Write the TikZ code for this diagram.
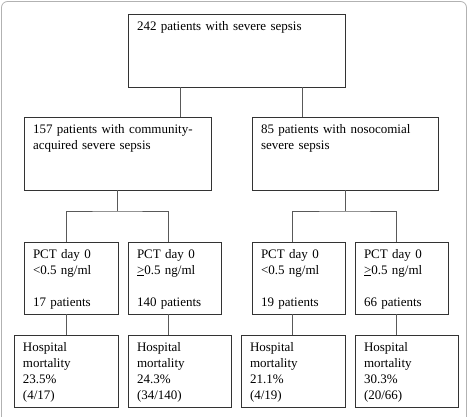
\documentclass[tikz,border=0pt]{standalone}
\usepackage{fontspec}
\setmainfont{Liberation Serif}
\usetikzlibrary{calc}
\tikzset{
  box/.style={draw=black!80, line width=0.9pt, anchor=north west, outer sep=0pt, align=left, inner xsep=9pt, inner ysep=4pt, text height=12pt, font=\fontsize{13}{16}\selectfont},
  groupbox/.style={box, text depth=53pt},
  pctbox/.style={box, text depth=52pt},
  link/.style={draw=black!65, line width=0.9pt},
  frame/.style={draw=black!30, line width=0.8pt, rounded corners=6pt}
}
\begin{document}
\begin{tikzpicture}[x=1pt, y=-1pt]
\clip (0,0) rectangle (471,416);
\draw[frame] (1.5,1.5) rectangle (466.5,440);
% groups
\node[groupbox, text width=199pt] (all) at (128,14) {242 patients with severe sepsis};
\node[groupbox, text width=169pt] (comm) at (24,117) {157 patients with community-\\acquired severe sepsis};
\node[groupbox, text width=168pt] (noso) at (252,117) {85 patients with nosocomial\\severe sepsis};
% PCT day 0
\node[pctbox, text width=76pt] (commlow) at (24,242) {PCT day 0\\<0.5 ng/ml\\[16pt]17 patients};
\node[pctbox, text width=75pt] (commhigh) at (128,242) {PCT day 0\\\underline{>}0.5 ng/ml\\[16pt]140 patients};
\node[pctbox, text width=75pt] (nosolow) at (252,242) {PCT day 0\\<0.5 ng/ml\\[16pt]19 patients};
\node[pctbox, text width=75pt] (nosohigh) at (355,242) {PCT day 0\\\underline{>}0.5 ng/ml\\[16pt]66 patients};
% mortality
\node[pctbox, text width=86pt] (mcommlow) at (14,335) {Hospital\\mortality\\23.5\%\\(4/17)};
\node[pctbox, text width=85pt] (mcommhigh) at (128,335) {Hospital\\mortality\\24.3\%\\(34/140)};
\node[pctbox, text width=86pt] (mnosolow) at (241,335) {Hospital\\mortality\\21.1\%\\(4/19)};
\node[pctbox, text width=85pt] (mnosohigh) at (355,335) {Hospital\\mortality\\30.3\%\\(20/66)};
% links
\coordinate (sa) at ($(all.south west)!0.24!(all.south east)$);
\coordinate (sb) at ($(all.south west)!0.806!(all.south east)$);
\draw[link] (sa) -- (sa |- comm.north);
\draw[link] (sb) -- (sb |- noso.north);
\coordinate (p1) at ($(commlow.north west)!0.447!(commlow.north east)$);
\coordinate (p2) at ($(commhigh.north west)!0.44!(commhigh.north east)$);
\coordinate (p3) at ($(nosolow.north west)!0.44!(nosolow.north east)$);
\coordinate (p4) at ($(nosohigh.north west)!0.45!(nosohigh.north east)$);
\draw[link] (comm.south) -- ++(0,21) coordinate (cj);
\draw[link] (p1) |- (cj) -| (p2);
\draw[link] (noso.south) -- ++(0,21) coordinate (nj);
\draw[link] (p3) |- (nj) -| (p4);
\draw[link] (p1 |- commlow.south) -- (p1 |- mcommlow.north);
\draw[link] (p2 |- commhigh.south) -- (p2 |- mcommhigh.north);
\draw[link] (p3 |- nosolow.south) -- (p3 |- mnosolow.north);
\draw[link] (p4 |- nosohigh.south) -- (p4 |- mnosohigh.north);
\end{tikzpicture}
\end{document}
